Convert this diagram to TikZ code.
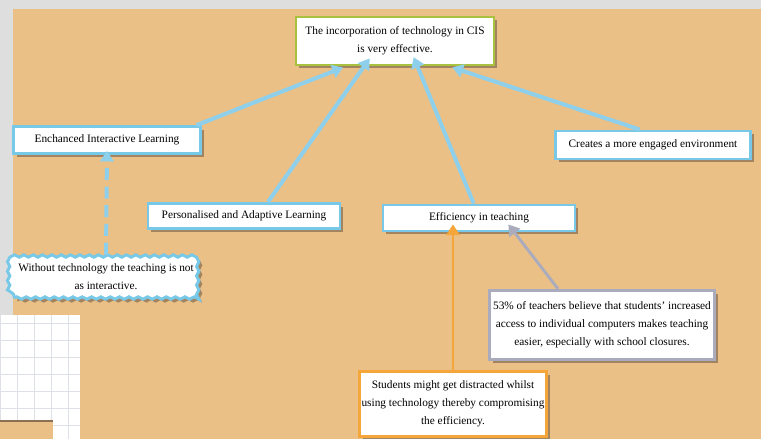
\documentclass[tikz,border=0pt]{standalone}
\usepackage{fontspec}
\setmainfont{Liberation Serif}
\usetikzlibrary{arrows.meta,shadows,decorations.pathmorphing}

\definecolor{bgorange}{RGB}{235,192,134}
\definecolor{bggray}{RGB}{222,222,222}
\definecolor{linkblue}{RGB}{142,208,236}
\definecolor{boxblue}{RGB}{120,200,232}
\definecolor{boxgreen}{RGB}{168,194,64}
\definecolor{boxorange}{RGB}{244,166,58}
\definecolor{boxgray}{RGB}{170,172,190}
\definecolor{shadowc}{RGB}{140,112,84}
\definecolor{gridc}{RGB}{222,224,232}

\tikzset{every picture/.style={line width=0.75pt},
  card/.style={draw=boxblue, line width=2.2pt, fill=white, inner sep=0.75pt, align=center,
    font=\fontsize{8.5}{13.5}\selectfont,
    drop shadow={shadow xshift=2.6pt, shadow yshift=-2.6pt, fill=shadowc, opacity=0.75}},
  link/.style={draw=linkblue, line width=3pt, -{Triangle[length=8pt,width=10pt]}},
}

\begin{document}
\begin{tikzpicture}[x=0.75pt,y=0.75pt,yscale=-1,xscale=1]
    \useasboundingbox (0,0) rectangle (761,439);
    % Background
    \fill[bggray] (0,0) rectangle (761,439);
    \fill[bgorange] (13,9) rectangle (761,439);
    \fill[white] (0,315) rectangle (80,439);
    \draw[gridc, line width=0.4pt, step=12.75pt] (0,315) grid (80,439);
    \fill[bgorange] (0,421) rectangle (53,439);
    \draw[shadowc, line width=1.2pt] (0,421) -- (53,421);
    % Text Node
    \node[card, draw=boxgreen, minimum width=148.5pt, minimum height=36pt] (claim) at (395,41)
      {The incorporation of technology in CIS\\is very effective.};
    % Text Node
    \node[card, minimum width=140pt, minimum height=20pt] (interactive) at (107,140)
      {Enchanced Interactive Learning};
    % Text Node
    \node[card, minimum width=144pt, minimum height=19pt] (adaptive) at (244,216)
      {Personalised and Adaptive Learning};
    % Text Node
    \node[card, minimum width=144pt, minimum height=19.5pt] (efficiency) at (479,218)
      {Efficiency in teaching};
    % Text Node
    \node[card, minimum width=146pt, minimum height=21pt] (engaged) at (653,145)
      {Creates a more engaged environment};
    % Text Node
    \node[card, inner xsep=2.5pt, minimum width=138pt, minimum height=31.5pt,
      decorate, decoration={snake, amplitude=0.9pt, segment length=7pt}] (without) at (106,277)
      {Without technology the teaching is not\\as interactive.};
    % Text Node
    \node[card, draw=boxgray, minimum width=169pt, minimum height=52pt] (survey) at (602,325)
      {53\% of teachers believe that students' increased\\access to individual computers makes teaching\\easier, especially with school closures.};
    % Text Node
    \node[card, draw=boxorange, minimum width=140pt, minimum height=49pt] (distract) at (453,404)
      {Students might get distracted whilst\\using technology thereby compromising\\the efficiency.};
    % Connection
    \draw[link] ([xshift=-4pt]interactive.north east) -- ([xshift=-39pt,yshift=0.75pt]claim.south);
    % Connection
    \draw[link] ([xshift=18pt]adaptive.north) -- ([xshift=-19pt,yshift=-6pt]claim.south);
    % Connection
    \draw[link] ([xshift=-4pt]efficiency.north) -- ([xshift=14pt,yshift=-7pt]claim.south);
    % Connection
    \draw[link] ([xshift=-10pt]engaged.north) -- ([xshift=43pt,yshift=0.75pt]claim.south);
    % Connection
    \draw[link, dash pattern={on 9pt off 5pt}] (without.north) -- ([yshift=-3pt]interactive.south);
    % Connection
    \draw[link, draw=boxgray, line width=2.2pt] ([xshift=-33pt]survey.north) -- ([xshift=22pt,yshift=-6pt]efficiency.south);
    % Connection
    \draw[link, draw=boxorange, line width=2pt] (distract.north) -- ([xshift=-19.5pt,yshift=-6pt]efficiency.south);
\end{tikzpicture}
\end{document}
